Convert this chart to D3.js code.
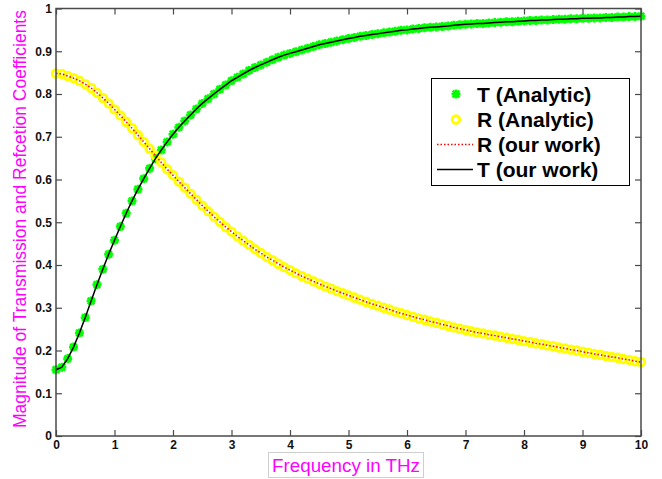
<!DOCTYPE html>
<html>
<head>
<meta charset="utf-8">
<script src="https://cdn.jsdelivr.net/npm/d3@7"></script>
<style>
  body { margin: 0; background: #fff; }
  svg { display: block; font-family: Arial, "Liberation Sans", sans-serif; }
  .tick text { font-weight: bold; font-size: 12px; fill: #111; }
</style>
</head>
<body>
<svg id="chart" width="662" height="479"></svg>
<script>
// frequency grid in THz
var freq = [
  0, 0.1, 0.2, 0.3, 0.4, 0.5, 0.6, 0.7, 0.8, 0.9,
  1, 1.1, 1.2, 1.3, 1.4, 1.5, 1.6, 1.7, 1.8, 1.9,
  2, 2.1, 2.2, 2.3, 2.4, 2.5, 2.6, 2.7, 2.8, 2.9,
  3, 3.1, 3.2, 3.3, 3.4, 3.5, 3.6, 3.7, 3.8, 3.9,
  4, 4.1, 4.2, 4.3, 4.4, 4.5, 4.6, 4.7, 4.8, 4.9,
  5, 5.1, 5.2, 5.3, 5.4, 5.5, 5.6, 5.7, 5.8, 5.9,
  6, 6.1, 6.2, 6.3, 6.4, 6.5, 6.6, 6.7, 6.8, 6.9,
  7, 7.1, 7.2, 7.3, 7.4, 7.5, 7.6, 7.7, 7.8, 7.9,
  8, 8.1, 8.2, 8.3, 8.4, 8.5, 8.6, 8.7, 8.8, 8.9,
  9, 9.1, 9.2, 9.3, 9.4, 9.5, 9.6, 9.7, 9.8, 9.9,
  10
];

// transmission magnitude
var tValues = [
  0.155, 0.161, 0.181, 0.208, 0.241, 0.277, 0.316, 0.354, 0.390, 0.425,
  0.458, 0.490, 0.521, 0.550, 0.577, 0.602, 0.626, 0.649, 0.669, 0.688,
  0.706, 0.722, 0.737, 0.751, 0.765, 0.778, 0.789, 0.800, 0.811, 0.821,
  0.831, 0.839, 0.847, 0.855, 0.862, 0.868, 0.874, 0.880, 0.886, 0.891,
  0.895, 0.899, 0.903, 0.907, 0.911, 0.915, 0.918, 0.921, 0.924, 0.927,
  0.930, 0.932, 0.935, 0.937, 0.939, 0.941, 0.943, 0.945, 0.947, 0.949,
  0.950, 0.952, 0.953, 0.955, 0.956, 0.957, 0.958, 0.959, 0.961, 0.962,
  0.963, 0.964, 0.965, 0.965, 0.966, 0.967, 0.968, 0.969, 0.969, 0.970,
  0.971, 0.972, 0.972, 0.973, 0.973, 0.974, 0.975, 0.975, 0.976, 0.976,
  0.977, 0.977, 0.978, 0.978, 0.979, 0.979, 0.980, 0.980, 0.981, 0.981,
  0.982
];

// reflection magnitude
var rValues = [
  0.848, 0.847, 0.842, 0.837, 0.831, 0.823, 0.814, 0.803, 0.791, 0.778,
  0.764, 0.750, 0.735, 0.720, 0.704, 0.688, 0.672, 0.656, 0.640, 0.624,
  0.610, 0.595, 0.581, 0.567, 0.553, 0.539, 0.526, 0.513, 0.501, 0.489,
  0.478, 0.467, 0.457, 0.447, 0.437, 0.428, 0.419, 0.411, 0.403, 0.395,
  0.388, 0.381, 0.374, 0.368, 0.362, 0.356, 0.350, 0.345, 0.339, 0.334,
  0.329, 0.324, 0.319, 0.314, 0.309, 0.305, 0.300, 0.296, 0.291, 0.287,
  0.283, 0.279, 0.275, 0.272, 0.268, 0.265, 0.261, 0.258, 0.254, 0.251,
  0.248, 0.245, 0.242, 0.240, 0.237, 0.235, 0.232, 0.230, 0.227, 0.225,
  0.222, 0.220, 0.217, 0.215, 0.212, 0.210, 0.207, 0.205, 0.202, 0.200,
  0.197, 0.195, 0.192, 0.190, 0.187, 0.185, 0.183, 0.180, 0.178, 0.175,
  0.173
];

var xTicks = [0, 1, 2, 3, 4, 5, 6, 7, 8, 9, 10];
var yTicks = [0, 0.1, 0.2, 0.3, 0.4, 0.5, 0.6, 0.7, 0.8, 0.9, 1];
var legendLabels = ["T (Analytic)", "R (Analytic)", "R (our work)", "T (our work)"];

var margin = { top: 8.5, left: 56, right: 21, bottom: 43 };
var width = 662, height = 479;
var axisColor = '#4a4a4a';

var svg = d3.select('#chart');

var x = d3.scaleLinear().domain([0, 10]).range([margin.left, width - margin.right]);
var y = d3.scaleLinear().domain([0, 1]).range([height - margin.bottom, margin.top]);

var tData = freq.map(function(f, i) { return [f, tValues[i]]; });
var rData = freq.map(function(f, i) { return [f, rValues[i]]; });

// asterisk marker like matlab '*'
var starPath = 'M-4.5,0L4.5,0M0,-4.5L0,4.5M-3.3,-3.3L3.3,3.3M-3.3,3.3L3.3,-3.3';

var plot = svg.append('g');

plot.append('g')
    .selectAll('path')
    .data(tData)
    .enter()
    .append('path')
    .attr('transform', d => 'translate(' + x(d[0]) + ',' + y(d[1]) + ')')
    .attr('d', starPath)
    .attr('stroke', '#00ff00')
    .attr('stroke-width', 2.6)
    .attr('fill', 'none');

plot.append('g')
    .selectAll('circle')
    .data(rData)
    .enter()
    .append('circle')
    .attr('cx', d => x(d[0]))
    .attr('cy', d => y(d[1]))
    .attr('r', 3.8)
    .attr('fill', 'none')
    .attr('stroke', '#ffff00')
    .attr('stroke-width', 2.8);

var line = d3.line()
    .x(d => x(d[0]))
    .y(d => y(d[1]));

plot.append('path')
    .datum(rData)
    .attr('d', line)
    .attr('fill', 'none')
    .attr('stroke', '#ff0000')
    .attr('stroke-width', 1.5)
    .attr('stroke-dasharray', '1.5,2');

plot.append('path')
    .datum(tData)
    .attr('d', line)
    .attr('fill', 'none')
    .attr('stroke', '#000')
    .attr('stroke-width', 1.5);

// axes, ticks pointing inward on all four sides
function styleAxis(g) {
    g.select('.domain').remove();
    g.selectAll('.tick line').attr('stroke', axisColor).attr('stroke-width', 1.2);
}

svg.append('g')
    .attr('transform', 'translate(0,' + y(0) + ')')
    .call(d3.axisBottom(x).tickValues(xTicks).tickSizeInner(-6).tickSizeOuter(0).tickPadding(4).tickFormat(d3.format('d')))
    .call(styleAxis);

svg.append('g')
    .attr('transform', 'translate(' + x(0) + ',0)')
    .call(d3.axisLeft(y).tickValues(yTicks).tickSizeInner(-6).tickSizeOuter(0).tickPadding(4).tickFormat(d => d === 0 || d === 1 ? d : d.toFixed(1)))
    .call(styleAxis);

svg.append('g')
    .attr('transform', 'translate(0,' + y(1) + ')')
    .call(d3.axisTop(x).tickValues(xTicks).tickSizeInner(-6).tickSizeOuter(0).tickFormat(''))
    .call(styleAxis);

svg.append('g')
    .attr('transform', 'translate(' + x(10) + ',0)')
    .call(d3.axisRight(y).tickValues(yTicks).tickSizeInner(-6).tickSizeOuter(0).tickFormat(''))
    .call(styleAxis);

svg.append('rect')
    .attr('x', x(0))
    .attr('y', y(1))
    .attr('width', x(10) - x(0))
    .attr('height', y(0) - y(1))
    .attr('fill', 'none')
    .attr('stroke', axisColor)
    .attr('stroke-width', 1.5);

// y label
svg.append('text')
    .attr('transform', 'translate(26,' + 219 + ') rotate(-90)')
    .attr('text-anchor', 'middle')
    .attr('fill', '#ff00ff')
    .style('font-size', '17.5px')
    .text('Magnitude of Transmission and Refcetion Coefficients');

// x label in its little box
var xl = svg.append('g');
xl.append('rect')
    .attr('x', 268.5)
    .attr('y', 452.5)
    .attr('width', 155)
    .attr('height', 25)
    .attr('fill', '#fff')
    .attr('stroke', '#cfcfcf');
xl.append('text')
    .attr('x', 346)
    .attr('y', 471.5)
    .attr('text-anchor', 'middle')
    .attr('fill', '#ff00ff')
    .style('font-size', '18.8px')
    .text('Frequency in THz');

// legend
var legend = svg.append('g');
legend.append('rect')
    .attr('x', 431.5)
    .attr('y', 78.5)
    .attr('width', 198)
    .attr('height', 107)
    .attr('fill', '#fff')
    .attr('stroke', '#000')
    .attr('stroke-width', 1);

var rowY = [94, 119.5, 144.5, 169.5];

legend.selectAll('text')
    .data(legendLabels)
    .enter()
    .append('text')
    .attr('x', 477)
    .attr('y', (d, i) => rowY[i] + 7.5)
    .attr('fill', '#000')
    .style('font-size', '21px')
    .style('font-weight', 'bold')
    .text(d => d);

legend.append('path')
    .attr('transform', 'translate(456,' + rowY[0] + ')')
    .attr('d', starPath)
    .attr('stroke', '#00ff00')
    .attr('stroke-width', 2.6);

legend.append('circle')
    .attr('cx', 456)
    .attr('cy', rowY[1])
    .attr('r', 3.8)
    .attr('fill', 'none')
    .attr('stroke', '#ffff00')
    .attr('stroke-width', 2.8);

legend.append('line')
    .attr('x1', 437).attr('x2', 473)
    .attr('y1', rowY[2]).attr('y2', rowY[2])
    .attr('stroke', '#ff0000')
    .attr('stroke-width', 1.5)
    .attr('stroke-dasharray', '1.5,2');

legend.append('line')
    .attr('x1', 437).attr('x2', 473)
    .attr('y1', rowY[3]).attr('y2', rowY[3])
    .attr('stroke', '#000')
    .attr('stroke-width', 1.5);
</script>
</body>
</html>
